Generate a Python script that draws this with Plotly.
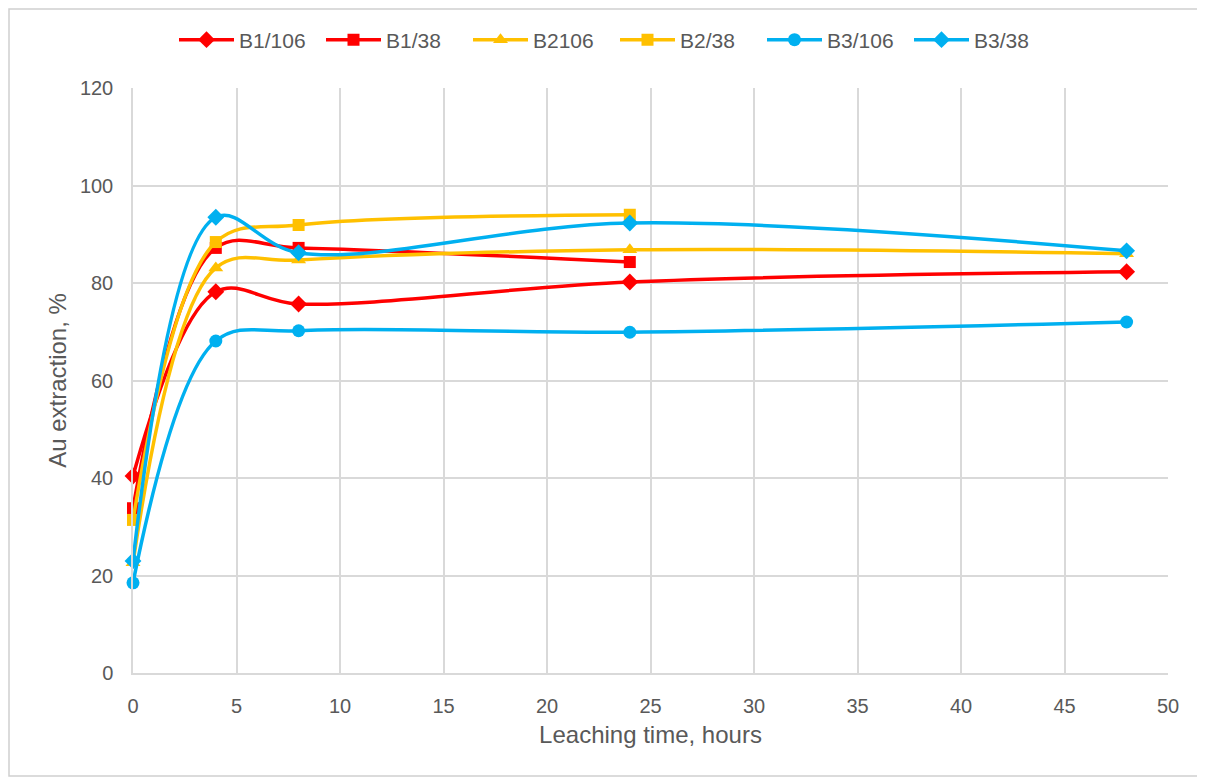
import plotly.graph_objects as go

time_all = [0, 4, 8, 24, 48]
time_short = [0, 4, 8, 24]

b1_106 = [40.4, 78.2, 75.7, 80.2, 82.3]
b1_38 = [33.8, 87.2, 87.2, 84.3]
b2_106 = [22.6, 83.1, 84.7, 86.8, 86.0]
b2_38 = [31.4, 88.4, 91.9, 94.0]
b3_106 = [18.5, 68.1, 70.2, 69.9, 72.0]
b3_38 = [23.0, 93.5, 86.2, 92.3, 86.6]

RED = "#FF0000"
YEL = "#FFC000"
BLU = "#00B0F0"

series = [
    ("B1/106", time_all, b1_106, RED, "diamond", 13),
    ("B1/38", time_short, b1_38, RED, "square", 12),
    ("B2106", time_all, b2_106, YEL, "triangle-up", 13),
    ("B2/38", time_short, b2_38, YEL, "square", 12),
    ("B3/106", time_all, b3_106, BLU, "circle", 13),
    ("B3/38", time_all, b3_38, BLU, "diamond", 13),
]

fig = go.Figure()
for name, x, y, c, sym, sz in series:
    fig.add_trace(go.Scatter(
        x=x, y=y, name=name, mode="lines+markers",
        line=dict(color=c, width=3.5, shape="spline", smoothing=1.0),
        marker=dict(color=c, symbol=sym, size=sz),
        cliponaxis=False,
    ))

W, H = 1205, 779
L, T = 125, 80
pw, ph = 1035, 585
R = W - L - pw
B = H - T - ph

def px(xp):
    return (xp - L) / pw

def py(yp):
    return (H - B - yp) / ph

GRAY = "#595959"
fig.update_layout(
    width=W, height=H,
    margin=dict(l=L, r=R, t=T, b=B),
    paper_bgcolor="white", plot_bgcolor="white",
    font=dict(family="Liberation Sans, Arial, sans-serif", color=GRAY, size=20),
    legend=dict(orientation="h", x=px(166), xanchor="left", y=py(32), yanchor="middle",
                font=dict(size=21, color=GRAY), itemwidth=55, entrywidth=77,
                entrywidthmode="pixels"),
    xaxis=dict(range=[0, 50], dtick=5, showgrid=True, gridcolor="#D9D9D9", gridwidth=1.5,
               zeroline=False, showline=True, linecolor="#D9D9D9", linewidth=1.5,
               ticks="", ticklabelstandoff=14, tickfont=dict(size=20, color=GRAY),
               title=dict(text="Leaching time, hours", font=dict(size=24, color=GRAY), standoff=10)),
    yaxis=dict(range=[0, 120], dtick=20, showgrid=True, gridcolor="#D9D9D9", gridwidth=1.5,
               zeroline=False, showline=True, linecolor="#D9D9D9", linewidth=1.5, ticks="",
               ticklabelstandoff=14, tickfont=dict(size=20, color=GRAY),
               title=dict(text="Au extraction, %", font=dict(size=24, color=GRAY), standoff=6)),
    shapes=[dict(type="rect", xref="paper", yref="paper",
                 x0=px(1), x1=px(1193), y0=py(768), y1=py(1),
                 line=dict(color="#D0D0D0", width=1.5), fillcolor="rgba(0,0,0,0)", layer="below")],
)

fig.write_html("out.html")
